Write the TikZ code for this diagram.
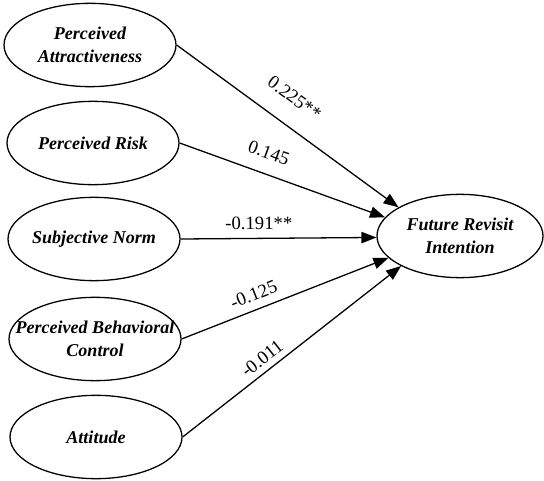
\documentclass[tikz,border=0pt]{standalone}
\usepackage{fontspec}
\setmainfont{Liberation Serif}
\usetikzlibrary{shapes.geometric,arrows.meta}

\begin{document}
\begin{tikzpicture}[
    construct/.style={draw, ellipse, line width=1.1pt, inner ysep=0pt, inner xsep=-0.6cm,
      minimum width=5.16cm, minimum height=2.5cm, align=center,
      font=\fontsize{15.4}{19.6}\selectfont\bfseries\itshape},
    effect/.style={line width=1.1pt, -{Triangle[length=0.45cm,width=0.34cm]}},
    coef/.style={sloped, font=\fontsize{16}{18}\selectfont}
  ]

      \useasboundingbox (0,0) rectangle (16.32,14.4);

      \node[construct] (pa)  at (2.70,13.05) {Perceived\\Attractiveness};
      \node[construct] (pr)  at (2.79,10.11) {Perceived Risk};
      \node[construct] (sn)  at (2.82,7.23)  {Subjective Norm};
      \node[construct] (pbc) at (2.85,4.23)  {Perceived Behavioral\\Control};
      \node[construct] (att) at (2.88,1.29)  {Attitude};
      \node[construct, minimum width=4.98cm] (fri) at (13.80,7.32) {Future Revisit\\Intention};

      \draw[effect] (pa.east)  -- (fri.155) node[coef, pos=0.46, above=0.48cm] {0.225**};
      \draw[effect] (pr.east)  -- (fri.166) node[coef, pos=0.40, above=0.30cm] {0.145};
      \draw[effect] (sn.east)  -- (fri.181) node[coef, pos=0.40, above=0.12cm] {-0.191**};
      \draw[effect] (pbc.east) -- (fri.197) node[coef, pos=0.375, above=0.12cm] {-0.125};
      \draw[effect] (att.east) -- (fri.207) node[coef, pos=0.40, above=0.06cm] {-0.011};

\end{tikzpicture}
\end{document}
